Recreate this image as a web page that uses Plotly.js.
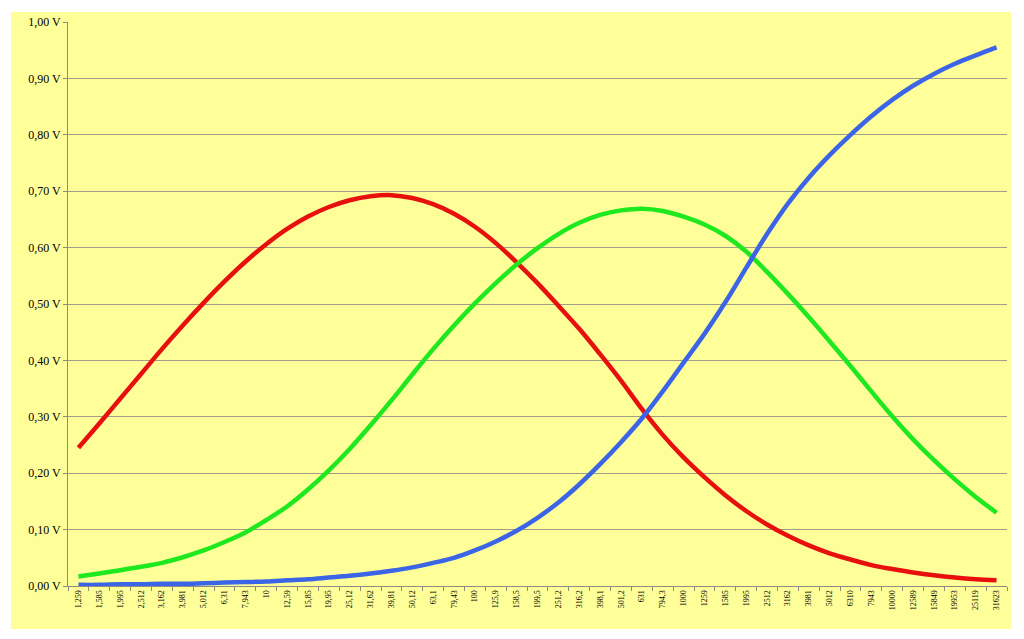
<!DOCTYPE html>
<html>
<head>
<meta charset="utf-8">
<script src="https://cdn.plot.ly/plotly-3.0.1.min.js"></script>
<style>
  html, body { margin: 0; padding: 0; background: #ffffff; }
  #chart { position: absolute; left: 11px; top: 12px; width: 1000px; height: 617px; }
</style>
</head>
<body>
<div id="chart"></div>
<script>
const categories = ["1,259","1,585","1,995","2,512","3,162","3,981","5,012","6,31","7,943","10",
  "12,59","15,85","19,95","25,12","31,62","39,81","50,12","63,1","79,43","100",
  "125,9","158,5","199,5","251,2","316,2","398,1","501,2","631","794,3","1000",
  "1259","1585","1995","2512","3162","3981","5012","6310","7943","10000",
  "12589","15849","19953","25119","31623"];

const redValues = [0.245,0.288,0.332,0.376,0.420,0.462,0.502,0.540,0.575,0.606,
  0.633,0.655,0.672,0.684,0.691,0.693,0.688,0.677,0.660,0.637,
  0.608,0.574,0.537,0.497,0.456,0.411,0.364,0.314,0.268,0.228,
  0.193,0.161,0.133,0.109,0.089,0.072,0.058,0.047,0.037,0.030,
  0.024,0.019,0.015,0.012,0.010];

const greenValues = [0.017,0.022,0.028,0.034,0.041,0.051,0.063,0.078,0.095,0.117,
  0.141,0.171,0.205,0.243,0.285,0.329,0.375,0.420,0.462,0.501,
  0.537,0.570,0.599,0.624,0.644,0.658,0.666,0.669,0.665,0.655,
  0.641,0.621,0.593,0.557,0.518,0.477,0.434,0.390,0.345,0.301,
  0.260,0.223,0.189,0.158,0.130];

const blueValues = [0.002,0.002,0.003,0.003,0.004,0.004,0.005,0.006,0.007,0.008,
  0.010,0.012,0.015,0.018,0.022,0.027,0.033,0.041,0.050,0.063,
  0.079,0.098,0.121,0.148,0.180,0.216,0.255,0.297,0.345,0.396,
  0.447,0.503,0.564,0.624,0.678,0.724,0.764,0.800,0.833,0.862,
  0.887,0.908,0.926,0.941,0.955];

const yTicks = [0,0.1,0.2,0.3,0.4,0.5,0.6,0.7,0.8,0.9,1.0];
const yTickText = yTicks.map(v => v.toFixed(2).replace('.', ',') + ' V');

function series(vals, color) {
  return {
    type: 'scatter', mode: 'lines', x: categories, y: vals,
    line: { color: color, width: 4.5, shape: 'spline', smoothing: 1 },
    hoverinfo: 'skip', showlegend: false
  };
}

const data = [
  series(redValues, '#E8100E'),
  series(greenValues, '#1EE81E'),
  series(blueValues, '#3C64E6')
];

const layout = {
  width: 1000, height: 617,
  paper_bgcolor: '#FFFF99', plot_bgcolor: '#FFFF99',
  margin: { l: 57, r: 4, t: 10, b: 43 },
  font: { family: 'Liberation Serif, Times New Roman, serif', color: '#000000' },
  showlegend: false,
  xaxis: {
    type: 'category', range: [-0.5, categories.length - 0.5],
    showgrid: false, zeroline: false,
    showline: true, linecolor: '#8C8C80', linewidth: 1,
    ticks: 'outside', tickson: 'boundaries', ticklen: 4, tickcolor: '#8C8C80',
    tickangle: -90, tickfont: { size: 8, family: 'Liberation Serif, serif', color: '#000' },
    fixedrange: true
  },
  yaxis: {
    range: [0, 1], tickmode: 'array', tickvals: yTicks, ticktext: yTickText,
    showgrid: true, gridcolor: '#A09E86', gridwidth: 1,
    zeroline: false, showline: true, linecolor: '#8C8C80', linewidth: 1,
    ticks: 'outside', ticklen: 4, tickcolor: '#8C8C80',
    tickfont: { size: 12, family: 'Liberation Serif, serif', color: '#000' },
    fixedrange: true
  }
};

Plotly.newPlot('chart', data, layout, { displayModeBar: false, staticPlot: true });
</script>
</body>
</html>
